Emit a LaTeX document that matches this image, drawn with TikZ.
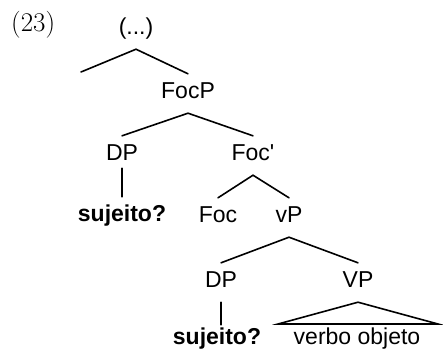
\documentclass[tikz,border=0pt]{standalone}
\usepackage{fontspec}
\setsansfont{Liberation Sans}
\begin{document}
\begin{tikzpicture}[x=1pt,y=-1pt,
  lab/.style={anchor=base,inner xsep=0pt,inner ysep=7pt,text height=17pt,text depth=8pt,
    font=\sffamily\fontsize{23}{27}\selectfont},
  bl/.style={lab,font=\sffamily\bfseries\fontsize{23}{27}\selectfont},
  br/.style={line width=1.6pt,line cap=round}]
\useasboundingbox (0,0) rectangle (443,354);
\node[anchor=base west,inner sep=0pt,font=\rmfamily\fontsize{27}{30}\selectfont] (ex) at (11,31) {(23)};
\node[lab] (dots) at (136,34) {(...)};
\node[lab] (FocP) at (188,98) {FocP};
\node[lab] (DPa) at (122,160) {DP};
\node[lab] (Focbar) at (253,160) {Foc\textquotesingle};
\node[bl] (sujA) at (122,221) {sujeito?};
\node[lab] (Foc) at (218,222) {Foc};
\node[lab] (vP) at (289,222) {vP};
\node[lab] (DPb) at (221,287) {DP};
\node[lab] (VP) at (358,287) {VP};
\node[bl] (sujB) at (217,344) {sujeito?};
\node[lab] (vo) at (357,344) {verbo objeto};
\coordinate (L1) at (81,72);
\coordinate (TL) at (278,324);
\coordinate (TR) at (438,324);
\draw[br] (L1) -- (dots.south) -- (FocP.north);
\draw[br] (DPa.north) -- (FocP.south) -- (Focbar.north);
\draw[br,shorten <=-7pt] (DPa.south) -- (sujA.north);
\draw[br] (Foc.north) -- (Focbar.south) -- (vP.north);
\draw[br] (DPb.north) -- (vP.south) -- (VP.north);
\draw[br,shorten >=-5pt] (DPb.south) -- (DPb.south |- sujB.north);
\draw[br,line join=miter] (VP.south) -- (TL) -- (TR) -- cycle;
\end{tikzpicture}
\end{document}
